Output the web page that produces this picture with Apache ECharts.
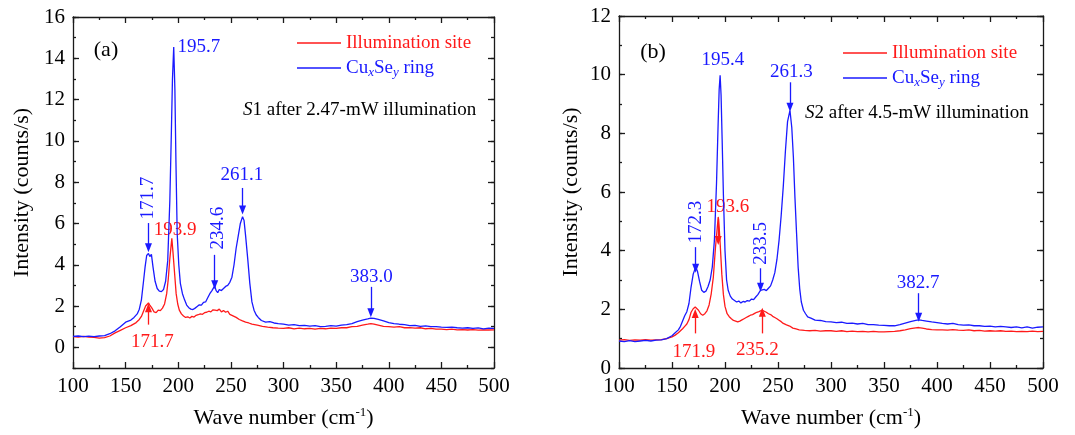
<!DOCTYPE html>
<html style="height: 100%">
<head>
    <meta charset="utf-8">
</head>
<body style="height: 100%; margin: 0; background: #fff">
<div id="container" style="width: 1075px; height: 435px"></div>
<script src="https://cdn.jsdelivr.net/npm/echarts@6/dist/echarts.min.js"></script>
<script type="text/javascript">
    // panel (a): S1 after 2.47-mW illumination  [wave number, intensity]
    const aRed = [[100,0.52],[105,0.5],[110,0.53],[115,0.5],[120,0.48],[125,0.45],[130,0.47],[135,0.55],[140,0.7],[145,0.82],[150,0.95],[155,1.05],[160,1.2],[163,1.35],[165,1.5],[167,1.75],[169,2.0],[171.7,2.15],[173,2.05],[175,1.9],[177,1.72],[179,1.68],[181,1.8],[183,1.78],[185,1.9],[187,2.1],[189,2.6],[190.5,3.3],[192,4.3],[193.9,5.28],[195,4.6],[196.5,3.6],[198,2.6],[199.5,2.1],[201,1.8],[203,1.62],[205,1.52],[207,1.45],[209,1.48],[211,1.42],[213,1.5],[215,1.47],[217,1.55],[219,1.58],[221,1.62],[223,1.6],[225,1.68],[227,1.7],[229,1.75],[231,1.72],[233,1.82],[235,1.8],[237,1.78],[239,1.85],[241,1.72],[243,1.78],[245,1.7],[247,1.75],[249,1.6],[251,1.55],[253,1.5],[255,1.45],[258,1.35],[261,1.28],[264,1.22],[267,1.18],[270,1.12],[275,1.08],[280,1.02],[285,0.98],[290,0.95],[295,0.93],[300,0.92],[305,0.95],[310,0.9],[315,0.93],[320,0.9],[325,0.92],[330,0.88],[335,0.92],[340,0.9],[345,0.93],[350,0.92],[355,0.95],[360,0.95],[365,1.0],[370,1.02],[375,1.08],[380,1.12],[383,1.15],[386,1.12],[390,1.08],[395,1.02],[400,1.0],[405,0.98],[410,1.0],[415,0.95],[420,0.96],[425,0.93],[430,0.95],[435,0.9],[440,0.92],[445,0.88],[450,0.88],[455,0.86],[460,0.88],[465,0.85],[470,0.86],[475,0.84],[480,0.86],[485,0.83],[490,0.85],[495,0.84],[500,0.85]];
    const aBlue = [[100,0.53],[105,0.55],[110,0.52],[115,0.54],[120,0.52],[125,0.55],[130,0.57],[135,0.66],[140,0.8],[145,1.0],[150,1.22],[155,1.32],[158,1.45],[161,1.62],[163,1.85],[165,2.3],[167,3.2],[168.5,3.9],[170,4.45],[171.7,4.55],[173,4.4],[174.5,4.5],[176,3.9],[178,3.2],[180,2.85],[182,2.72],[184,2.7],[186,2.8],[188,3.2],[190,4.2],[192,7.1],[193.5,10.5],[194.5,13.0],[195.7,14.55],[196.8,12.5],[197.8,9.0],[199,5.5],[200.5,4.0],[202,3.1],[204,2.6],[206,2.3],[208,2.05],[210,1.92],[212,1.85],[214,1.83],[216,1.9],[218,1.98],[220,2.06],[222,2.05],[224,2.18],[226,2.2],[228,2.4],[230,2.6],[232,2.75],[234.6,2.98],[236,2.75],[237.5,2.65],[239,2.8],[241,2.75],[243,2.85],[245,2.95],[247,3.0],[249,3.15],[251,3.4],[253,4.0],[255,4.8],[257,5.4],[259,6.0],[261.1,6.33],[262.5,6.15],[264,5.4],[266,4.3],[268,3.1],[270,2.2],[272,1.8],[274,1.58],[276,1.45],[279,1.3],[283,1.22],[287,1.25],[291,1.18],[295,1.15],[300,1.12],[305,1.08],[310,1.1],[315,1.05],[320,1.06],[325,1.03],[330,1.05],[335,1.0],[340,1.02],[345,1.05],[350,1.03],[355,1.08],[360,1.1],[365,1.15],[370,1.25],[375,1.32],[380,1.38],[383,1.42],[386,1.4],[390,1.35],[395,1.28],[400,1.2],[405,1.15],[410,1.12],[415,1.1],[420,1.05],[425,1.06],[430,1.02],[435,1.04],[440,1.0],[445,1.0],[450,0.98],[455,0.97],[460,0.98],[465,0.95],[470,0.93],[475,0.95],[480,0.92],[485,0.94],[490,0.9],[495,0.93],[500,0.92]];

    // panel (b): S2 after 4.5-mW illumination
    const bRed = [[100,0.95],[105,0.97],[110,0.94],[115,0.96],[120,0.95],[125,0.97],[130,0.95],[135,0.96],[140,0.97],[145,1.0],[150,1.06],[153,1.12],[156,1.2],[158,1.27],[160,1.34],[162,1.42],[164,1.5],[166,1.65],[168,1.9],[170,2.02],[171.9,2.08],[173.5,2.02],[175,1.97],[177,1.85],[179,1.8],[181,1.85],[183,1.95],[185,2.15],[187,2.53],[189,3.1],[191,4.1],[192.5,4.7],[193.6,5.15],[194.5,4.8],[195.5,4.2],[197,3.2],[198.5,2.5],[200,2.1],[202,1.85],[204,1.75],[206,1.68],[208,1.62],[210,1.6],[212,1.57],[214,1.6],[216,1.64],[218,1.68],[220,1.72],[222,1.76],[224,1.8],[226,1.82],[228,1.86],[230,1.9],[232,1.92],[235.2,1.97],[237,1.93],[239,1.9],[241,1.85],[243,1.82],[245,1.76],[247,1.72],[249,1.68],[251,1.63],[253,1.58],[255,1.52],[258,1.47],[261,1.43],[264,1.36],[267,1.33],[270,1.3],[275,1.28],[280,1.27],[285,1.28],[290,1.26],[295,1.27],[300,1.27],[305,1.25],[310,1.27],[315,1.24],[320,1.26],[325,1.24],[330,1.25],[335,1.23],[340,1.25],[345,1.23],[350,1.23],[355,1.24],[360,1.25],[365,1.27],[370,1.3],[375,1.34],[380,1.37],[382.7,1.38],[386,1.36],[390,1.33],[395,1.31],[400,1.3],[405,1.3],[410,1.29],[415,1.31],[420,1.29],[425,1.28],[430,1.3],[435,1.27],[440,1.28],[445,1.26],[450,1.27],[455,1.26],[460,1.27],[465,1.25],[470,1.26],[475,1.24],[480,1.25],[485,1.24],[490,1.26],[495,1.24],[500,1.25]];
    const bBlue = [[100,0.92],[105,0.9],[110,0.93],[115,0.9],[120,0.92],[125,0.94],[130,0.92],[135,0.95],[140,0.96],[145,1.0],[150,1.1],[153,1.2],[156,1.3],[158,1.42],[160,1.6],[162,1.78],[164,1.92],[166,2.2],[168,2.76],[170,3.2],[172.3,3.44],[174,3.3],[176,2.95],[178,2.65],[180,2.58],[182,2.62],[184,2.78],[186,3.0],[188,3.44],[190,4.35],[192,6.3],[193.5,8.3],[194.5,9.5],[195.4,9.98],[196.3,9.3],[197.3,7.8],[198.5,5.9],[200,4.0],[201.5,3.0],[203,2.65],[205,2.45],[207,2.35],[209,2.3],[211,2.25],[213,2.28],[215,2.22],[217,2.27],[219,2.25],[221,2.3],[223,2.28],[225,2.35],[227,2.33],[229,2.42],[231,2.5],[233.5,2.65],[235,2.62],[237,2.68],[239,2.64],[241,2.72],[243,2.8],[245,3.0],[247,3.25],[249,3.7],[251,4.35],[253,5.2],[255,6.2],[257,7.4],[259,8.4],[261.3,8.78],[263,8.2],[264.5,7.2],[266,5.8],[267.5,4.6],[269,3.44],[270.5,2.7],[272,2.25],[274,1.97],[276,1.85],[278,1.74],[281,1.7],[285,1.63],[290,1.62],[295,1.58],[300,1.57],[305,1.55],[310,1.56],[315,1.52],[320,1.53],[325,1.5],[330,1.52],[335,1.48],[340,1.48],[345,1.46],[350,1.45],[355,1.44],[360,1.44],[365,1.48],[370,1.53],[375,1.58],[380,1.62],[382.7,1.64],[386,1.62],[390,1.6],[395,1.57],[400,1.55],[405,1.52],[410,1.5],[415,1.52],[420,1.48],[425,1.46],[430,1.47],[435,1.44],[440,1.44],[445,1.42],[450,1.43],[455,1.4],[460,1.42],[465,1.4],[470,1.38],[475,1.4],[480,1.37],[485,1.4],[490,1.36],[495,1.39],[500,1.4]];

    // peak labels: text, label centre (x, y), rotated?, arrow at wave number from y0 to y1
    const aNotes = [
        {text: '195.7', c: 'b', lx: 219.5, ly: 14.57},
        {text: '171.7', c: 'b', lx: 171.2, ly: 7.23, rot: true, ax: 171.7, ay: [6.02, 4.82]},
        {text: '193.9', c: 'r', lx: 197.1, ly: 5.69},
        {text: '234.6', c: 'b', lx: 237.5, ly: 5.78, rot: true, ax: 234.6, ay: [4.48, 3.03]},
        {text: '261.1', c: 'b', lx: 260.4, ly: 8.34, ax: 261.1, ay: [7.72, 6.65]},
        {text: '383.0', c: 'b', lx: 383.5, ly: 3.42, ax: 383.0, ay: [2.93, 1.68]},
        {text: '171.7', c: 'r', lx: 175.3, ly: 0.28, ax: 171.7, ay: [1.10, 1.92]}
    ];
    const bNotes = [
        {text: '195.4', c: 'b', lx: 198.0, ly: 10.49},
        {text: '261.3', c: 'b', lx: 262.6, ly: 10.08, ax: 261.3, ay: [9.74, 8.89]},
        {text: '172.3', c: 'b', lx: 172.6, ly: 4.97, rot: true, ax: 172.3, ay: [4.12, 3.40]},
        {text: '193.6', c: 'r', lx: 202.7, ly: 5.5, ax: 193.6, ay: [5.1, 4.35]},
        {text: '233.5', c: 'b', lx: 233.8, ly: 4.25, rot: true, ax: 233.5, ay: [3.40, 2.75]},
        {text: '382.7', c: 'b', lx: 382.3, ly: 2.89, ax: 382.7, ay: [2.55, 1.73]},
        {text: '171.9', c: 'r', lx: 170.6, ly: 0.53, ax: 171.9, ay: [1.18, 1.86]},
        {text: '235.2', c: 'r', lx: 230.5, ly: 0.60, ax: 235.2, ay: [1.18, 1.90]}
    ];

    const aYTicks = [0, 2, 4, 6, 8, 10, 12, 14, 16];
    const bYTicks = [0, 2, 4, 6, 8, 10, 12];

    const FONT = '"Liberation Serif", "Times New Roman", serif';
    const RED = '#ff1a1a', BLUE = '#1a1aff', INK = '#1a1a1a';
    const COLORS = {r: RED, b: BLUE};

    var dom = document.getElementById('container');
    var myChart = echarts.init(dom);

    const line = {color: INK, width: 1.3};

    function xAxes(gridIndex) {
        const base = {
            type: 'value', gridIndex: gridIndex, min: 100, max: 500, interval: 50,
            axisLine: {show: true, onZero: false, lineStyle: line},
            axisTick: {inside: true, length: 6, lineStyle: line},
            minorTick: {show: true, splitNumber: 2, length: 3, lineStyle: line},
            splitLine: {show: false}
        };
        return [
            Object.assign({}, base, {
                position: 'bottom',
                axisLabel: {color: '#000', fontFamily: FONT, fontSize: 21, margin: 8},
                name: 'Wave number (cm{sup|-1})', nameLocation: 'middle', nameGap: 38,
                nameTextStyle: {color: '#000', fontFamily: FONT, fontSize: 22,
                    rich: {sup: {fontFamily: FONT, fontSize: 13, color: '#000', padding: [0, 0, 12, 0]}}}
            }),
            Object.assign({}, base, {position: 'top', axisLabel: {show: false}})
        ];
    }

    function yAxis(gridIndex, pos, min, max, majors, withLabel, nameGap) {
        const o = {
            type: 'value', gridIndex: gridIndex, position: pos, min: min, max: max, interval: 1,
            axisLine: {show: true, onZero: false, lineStyle: line},
            axisTick: {inside: true, length: 3, lineStyle: line},
            axisLabel: {show: false},
            splitLine: {show: false}
        };
        const major = {
            type: 'value', gridIndex: gridIndex, position: pos, min: min, max: max,
            axisLine: {show: false},
            axisTick: {inside: true, length: 6, lineStyle: line, customValues: majors},
            axisLabel: {show: false},
            splitLine: {show: false}
        };
        if (withLabel) {
            major.axisLabel = {show: true, customValues: majors, color: '#000',
                fontFamily: FONT, fontSize: 21, margin: 8};
            major.name = 'Intensity (counts/s)';
            major.nameLocation = 'middle';
            major.nameGap = nameGap;
            major.nameTextStyle = {color: '#000', fontFamily: FONT, fontSize: 22};
        }
        return [o, major];
    }

    function arrows(notes, color) {
        return {
            silent: true, symbol: ['none', 'triangle'], symbolSize: [7, 9],
            label: {show: false},
            lineStyle: {color: color, width: 1.3, type: 'solid'},
            data: notes.filter(n => n.ax && COLORS[n.c] === color)
                .map(n => [{coord: [n.ax, n.ay[0]]}, {coord: [n.ax, n.ay[1]]}])
        };
    }

    function spectrum(data, color, xi, yi, notes) {
        return {
            type: 'line', data: data, xAxisIndex: xi, yAxisIndex: yi,
            symbol: 'none', lineStyle: {color: color, width: 1.3},
            markLine: arrows(notes, color)
        };
    }

    option = {
        animation: false,
        backgroundColor: '#fff',
        grid: [
            {left: 73, top: 17, width: 421, height: 351},
            {left: 619, top: 16, width: 424, height: 352}
        ],
        xAxis: xAxes(0).concat(xAxes(1)),
        yAxis: []
            .concat(yAxis(0, 'left', -1, 16, aYTicks, true, 40))
            .concat(yAxis(0, 'right', -1, 16, aYTicks, false))
            .concat(yAxis(1, 'left', 0, 12, bYTicks, true, 37))
            .concat(yAxis(1, 'right', 0, 12, bYTicks, false)),
        series: [
            spectrum(aRed, RED, 0, 1, aNotes),
            spectrum(aBlue, BLUE, 0, 1, aNotes),
            spectrum(bRed, RED, 2, 5, bNotes),
            spectrum(bBlue, BLUE, 2, 5, bNotes)
        ]
    };
    myChart.setOption(option);

    // peak labels placed through the axes, legend and captions as text
    const g = [];
    [[0, aNotes], [2, bNotes]].forEach(function (pair) {
        pair[1].forEach(function (n) {
            const p = myChart.convertToPixel({seriesIndex: pair[0]}, [n.lx, n.ly]);
            g.push({type: 'text', x: p[0], y: p[1], rotation: n.rot ? Math.PI / 2 : 0,
                style: {text: n.text, fill: COLORS[n.c], font: '19px ' + FONT,
                    align: 'center', verticalAlign: 'middle'}});
        });
    });
    function legend(x, y) {
        g.push({type: 'line', shape: {x1: x, y1: y, x2: x + 44, y2: y}, style: {stroke: RED, lineWidth: 1.3}});
        g.push({type: 'line', shape: {x1: x, y1: y + 25, x2: x + 44, y2: y + 25}, style: {stroke: BLUE, lineWidth: 1.3}});
        g.push({type: 'text', x: x + 49, y: y, style: {text: 'Illumination site', fill: RED,
            font: '19px ' + FONT, verticalAlign: 'middle'}});
        g.push({type: 'text', x: x + 49, y: y + 25, style: {
            text: '{n|Cu}{s|x}{n|Se}{s|y}{n| ring}', verticalAlign: 'middle',
            rich: {
                n: {fill: BLUE, font: '19px ' + FONT},
                s: {fill: BLUE, font: 'italic 13px ' + FONT, padding: [9, 0, 0, 0]}
            }}});
    }
    legend(297, 43);
    legend(843, 53);
    g.push({type: 'text', x: 106, y: 50, style: {text: '(a)', fill: '#000', font: '22px ' + FONT, align: 'center', verticalAlign: 'middle'}});
    g.push({type: 'text', x: 653, y: 52, style: {text: '(b)', fill: '#000', font: '22px ' + FONT, align: 'center', verticalAlign: 'middle'}});
    function caption(x, y, s, rest) {
        g.push({type: 'text', x: x, y: y, style: {text: '{i|' + s + '}{n|' + rest + '}', verticalAlign: 'middle',
            rich: {i: {fill: '#000', font: 'italic 19px ' + FONT}, n: {fill: '#000', font: '19px ' + FONT}}}});
    }
    caption(243, 110, 'S', '1 after 2.47-mW illumination');
    caption(805, 113, 'S', '2 after 4.5-mW illumination');
    myChart.setOption({graphic: g});
</script>
</body>
</html>
